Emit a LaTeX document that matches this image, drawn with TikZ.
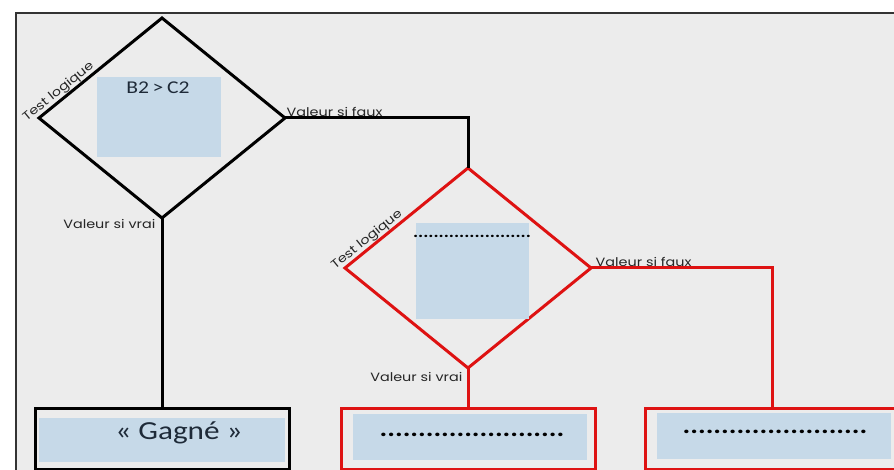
\documentclass[tikz,border=0pt]{standalone}
\usepackage{graphicx}
\usepackage{fontspec}
\setmainfont{Carlito}
\newfontfamily\lblfont{Poppins}
\usetikzlibrary{shapes.geometric}

\definecolor{fond}{HTML}{ECECEC}
\definecolor{bleu}{HTML}{C6D9E8}
\definecolor{rouge}{HTML}{DE1212}
\definecolor{encre}{HTML}{1E2A38}

\newcommand{\etiq}[1]{\scalebox{1.2}[1]{\lblfont\fontsize{12}{13}\selectfont #1}}
\newcommand{\texte}[2]{\scalebox{1.2}[1]{\fontsize{#1}{#1}\selectfont #2}}

\begin{document}
\begin{tikzpicture}[x=1pt,y=-1pt,
  losange/.style={diamond, draw, line width=3pt, minimum width=246pt, minimum height=200pt, inner sep=0pt, outer sep=0pt},
  boite/.style={rectangle, draw, fill=fond, line width=3pt, minimum width=254pt, minimum height=61pt, outer sep=0pt},
  zone/.style={rectangle, fill=bleu, inner sep=0pt},
  trait/.style={line width=3pt},
  lbl/.style={inner sep=1.5pt, text=black!85}]
\useasboundingbox (0,0) rectangle (894,470);
% cadre
\fill[white] (0,0) rectangle (894,470);
\fill[fond] (16,13) rectangle (894,470);
\draw[line width=2pt, black!80] (16,470) -- (16,13) -- (894,13);

% premier test
\node[losange] (d1) at (162,118) {};
\node[zone, minimum width=124pt, minimum height=80pt] (z1) at (159,117) {};
\node[text=encre] (t1) at (158,88) {\texte{18}{B2\,>\,C2}};

% second test
\node[losange, draw=rouge] (d2) at (468,268) {};
\node[zone, minimum width=113pt, minimum height=96pt] (z2) at (472,271) {};
\node[inner sep=0pt] (t2) at (472,236) {\texte{16}{\bfseries .......................}};

% resultats
\node[boite] (g) at (162,438.5) {};
\node[zone, minimum width=246pt, minimum height=44pt] (zg) at (162,440) {};
\node[text=encre] (tg) at (179,433) {\texte{26}{« Gagné »}};
\node[boite, draw=rouge] (v2) at (468,438.5) {};
\node[zone, minimum width=234pt, minimum height=46pt] (zv2) at (470,436.5) {};
\node[inner sep=0pt] (tv2) at (472,435) {\texte{24}{\bfseries ........................}};
\node[boite, draw=rouge] (v3) at (772,438.5) {};
\node[zone, minimum width=234pt, minimum height=46pt] (zv3) at (774,436) {};
\node[inner sep=0pt] (tv3) at (775,432) {\texte{24}{\bfseries ........................}};

% liaisons
\draw[trait] (d1.east) -| (d2.north);
\draw[trait] (d1.south) -- (g.north);
\draw[trait, rouge] (d2.south) -- (v2.north);
\draw[trait, rouge] (d2.east) -| (v3.north);

% etiquettes
\path (d1.west) -- (d1.north) node[lbl, pos=0.2, sloped, above] (tl1) {\etiq{Test logique}};
\path (d2.west) -- (d2.north) node[lbl, pos=0.22, sloped, above] (tl2) {\etiq{Test logique}};
\node[lbl, anchor=south west] (vf1) at (d1.east) {\etiq{Valeur si faux}};
\node[lbl, anchor=south west, xshift=3pt] (vf2) at (d2.east) {\etiq{Valeur si faux}};
\node[lbl, anchor=north east, xshift=-5pt] (vv1) at (d1.south) {\etiq{Valeur si vrai}};
\node[lbl, anchor=north east, xshift=-4pt, yshift=-3pt] (vv2) at (d2.south) {\etiq{Valeur si vrai}};
\end{tikzpicture}
\end{document}
